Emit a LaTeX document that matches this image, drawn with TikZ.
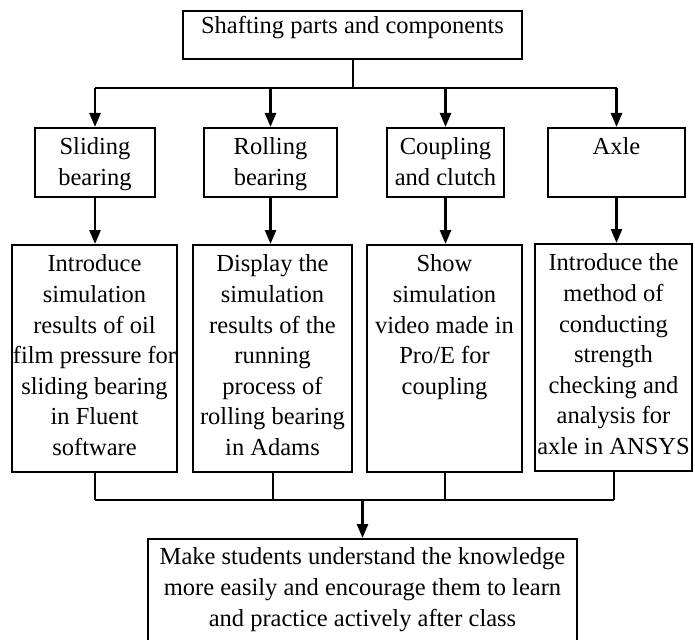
\documentclass[tikz,border=0pt]{standalone}
\usepackage{fontspec}
\setmainfont{Liberation Serif}
\usetikzlibrary{arrows.meta}
\newcommand{\btext}[4]{\parbox[c][#2][t]{#1}{\centering\vspace*{#3}\strut #4\par}}
\begin{document}
\begin{tikzpicture}[x=1pt,y=-1pt,
  box/.style={draw, line width=2pt, inner sep=0pt, font=\fontsize{24.5}{30.6}\selectfont},
  arr/.style={line width=2.6pt, -{Triangle[width=11pt,length=14pt]}},
  bus/.style={line width=2pt}]
\useasboundingbox (0,0) rectangle (695,639);
% top
\node[box, minimum width=339pt, minimum height=48pt] (top) at (352.5,35)
  {\btext{339pt}{46pt}{0pt}{Shafting parts and components}};
% row 2
\node[box, minimum width=120pt, minimum height=69pt] (sl2) at (95,162.5)
  {\btext{120pt}{67pt}{4.5pt}{Sliding\\bearing}};
\node[box, minimum width=133pt, minimum height=69pt] (ro2) at (270.5,162.5)
  {\btext{133pt}{67pt}{4.5pt}{Rolling\\bearing}};
\node[box, minimum width=117pt, minimum height=69pt] (co2) at (445.5,162.5)
  {\btext{117pt}{67pt}{4.5pt}{Coupling\\and clutch}};
\node[box, minimum width=137pt, minimum height=69pt] (ax2) at (616.5,162.5)
  {\btext{137pt}{67pt}{4.5pt}{Axle}};
% row 3
\node[box, minimum width=165pt, minimum height=227pt] (sl3) at (94.5,358.5)
  {\btext{165pt}{225pt}{4.5pt}{Introduce\\simulation\\results of oil\\film pressure for\\sliding bearing\\in Fluent\\software}};
\node[box, minimum width=159pt, minimum height=227pt] (ro3) at (272.5,358.5)
  {\btext{159pt}{225pt}{4.5pt}{Display the\\simulation\\results of the\\running\\process of\\rolling bearing\\in Adams}};
\node[box, minimum width=155pt, minimum height=227pt] (co3) at (444.5,358.5)
  {\btext{155pt}{225pt}{4.5pt}{Show\\simulation\\video made in\\Pro/E for\\coupling}};
\node[box, minimum width=157pt, minimum height=227pt] (ax3) at (613.5,357.5)
  {\btext{157pt}{225pt}{4.5pt}{Introduce the\\method of\\conducting\\strength\\checking and\\analysis for\\axle in ANSYS}};
% bottom
\node[box, minimum width=429pt, minimum height=110pt] (bot) at (362.5,594)
  {\btext{429pt}{108pt}{3.5pt}{Make students understand the knowledge\\more easily and encourage them to learn\\and practice actively after class}};
% top connectors
\coordinate (tb) at (352.5,88);
\draw[bus] (top.south) -- (tb);
\draw[bus] (sl2.north |- tb) -- (ax2.north |- tb);
\foreach \n in {sl2,ro2,co2,ax2}
  \draw[arr] (\n.north |- tb) -- (\n.north);
% middle arrows
\draw[arr] (sl2.south) -- (sl2.south |- sl3.north);
\draw[arr] (ro2.south) -- (ro2.south |- ro3.north);
\draw[arr] (co2.south) -- (co2.south |- co3.north);
\draw[arr] (ax2.south) -- (ax2.south |- ax3.north);
% bottom connectors
\coordinate (bb) at (362.5,500);
\foreach \n in {sl3,ro3,co3,ax3}
  \draw[bus] (\n.south) -- (\n.south |- bb);
\draw[bus] (sl3.south |- bb) -- (ax3.south |- bb);
\draw[arr] (bot.north |- bb) -- (bot.north);
\end{tikzpicture}
\end{document}
